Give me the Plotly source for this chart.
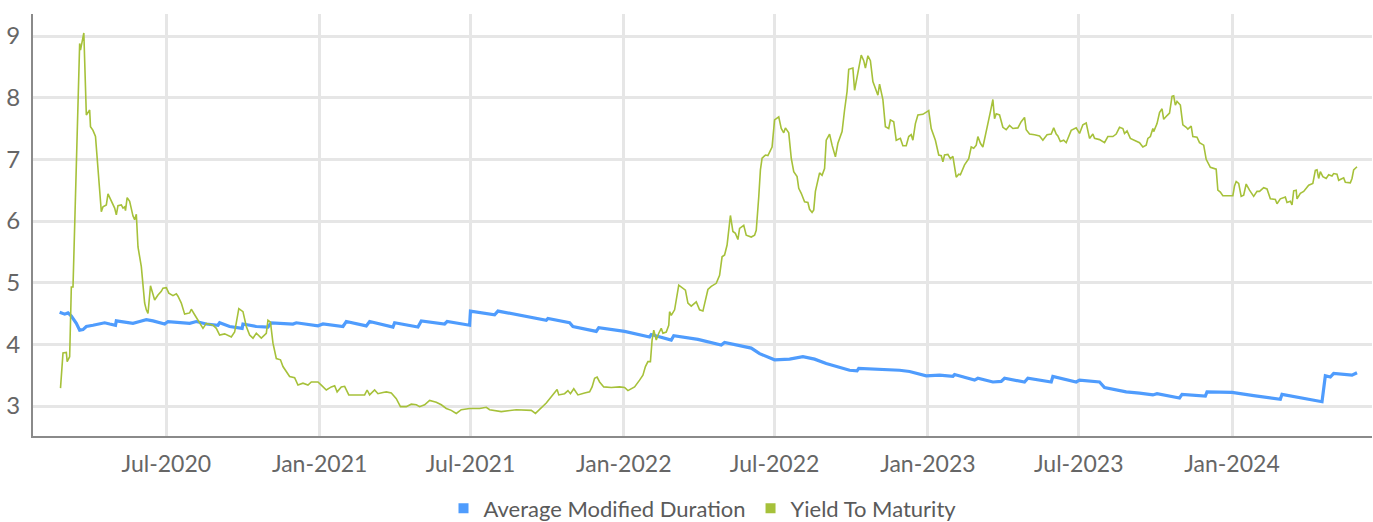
import plotly.graph_objects as go

# ---------------- data ----------------
amd_dates = [
    "2020-02-24", "2020-03-01", "2020-03-05", "2020-03-09", "2020-03-15", "2020-03-19", "2020-03-23",
    "2020-03-27", "2020-04-04", "2020-04-14", "2020-04-18", "2020-04-24", "2020-05-01", "2020-05-02",
    "2020-05-14", "2020-05-22", "2020-05-30", "2020-06-07", "2020-06-15", "2020-06-29", "2020-07-03",
    "2020-07-17", "2020-07-29", "2020-08-06", "2020-08-18", "2020-09-01", "2020-09-03", "2020-09-15",
    "2020-09-30", "2020-10-01", "2020-10-17", "2020-10-31", "2020-11-04", "2020-11-30", "2020-12-04",
    "2020-12-30", "2021-01-05", "2021-01-29", "2021-02-02", "2021-02-26", "2021-03-02", "2021-03-30",
    "2021-04-01", "2021-04-29", "2021-05-03", "2021-05-31", "2021-06-03", "2021-06-30", "2021-07-01",
    "2021-07-30", "2021-08-03", "2021-09-30", "2021-10-02", "2021-10-28", "2021-11-01", "2021-11-29",
    "2021-12-02", "2022-01-02", "2022-02-01", "2022-02-03", "2022-02-27", "2022-03-02", "2022-03-31",
    "2022-04-28", "2022-05-02", "2022-06-03", "2022-06-13", "2022-07-01", "2022-07-19", "2022-08-04",
    "2022-08-18", "2022-09-01", "2022-09-29", "2022-10-08", "2022-10-10", "2022-11-28", "2022-12-10",
    "2022-12-30", "2023-01-15", "2023-01-31", "2023-02-02", "2023-02-26", "2023-03-02", "2023-03-20",
    "2023-03-30", "2023-04-03", "2023-04-27", "2023-05-01", "2023-05-29", "2023-05-31", "2023-06-28",
    "2023-07-02", "2023-07-26", "2023-08-01", "2023-08-27", "2023-09-12", "2023-09-28", "2023-10-03",
    "2023-10-30", "2023-11-02", "2023-11-30", "2023-12-02", "2023-12-18", "2024-01-01", "2024-01-27",
    "2024-02-28", "2024-03-01", "2024-03-27", "2024-04-18", "2024-04-22", "2024-04-28", "2024-05-02",
    "2024-05-14", "2024-05-24", "2024-05-30",
]
amd_values = [
    4.52, 4.49, 4.51, 4.46, 4.34, 4.23, 4.24,
    4.29, 4.31, 4.34, 4.35, 4.33, 4.31, 4.38,
    4.36, 4.34, 4.37, 4.40, 4.38, 4.33, 4.37,
    4.35, 4.34, 4.37, 4.33, 4.31, 4.35, 4.29,
    4.26, 4.33, 4.29, 4.28, 4.35, 4.33, 4.35,
    4.30, 4.33, 4.29, 4.37, 4.30, 4.37, 4.28,
    4.35, 4.28, 4.38, 4.33, 4.37, 4.31, 4.54,
    4.48, 4.54, 4.39, 4.42, 4.35, 4.29, 4.21,
    4.27, 4.21, 4.12, 4.16, 4.07, 4.14, 4.08,
    3.99, 4.03, 3.94, 3.85, 3.75, 3.76, 3.80,
    3.76, 3.69, 3.58, 3.57, 3.61, 3.58, 3.56,
    3.49, 3.50, 3.48, 3.51, 3.42, 3.45, 3.39,
    3.40, 3.45, 3.39, 3.45, 3.39, 3.48, 3.39,
    3.42, 3.39, 3.30, 3.23, 3.21, 3.18, 3.20,
    3.13, 3.19, 3.16, 3.23, 3.23, 3.22, 3.17,
    3.11, 3.19, 3.13, 3.07, 3.49, 3.47, 3.53,
    3.52, 3.50, 3.54,
]

ytm_dates = [
    "2020-02-25", "2020-02-28", "2020-03-03", "2020-03-04", "2020-03-07", "2020-03-09", "2020-03-11",
    "2020-03-13", "2020-03-15", "2020-03-19", "2020-03-20", "2020-03-22", "2020-03-24", "2020-03-27",
    "2020-03-29", "2020-03-31", "2020-04-01", "2020-04-04", "2020-04-07", "2020-04-10", "2020-04-14",
    "2020-04-16", "2020-04-20", "2020-04-22", "2020-04-26", "2020-04-30", "2020-05-02", "2020-05-04",
    "2020-05-08", "2020-05-10", "2020-05-12", "2020-05-13", "2020-05-15", "2020-05-18", "2020-05-22",
    "2020-05-24", "2020-05-26", "2020-05-28", "2020-06-01", "2020-06-05", "2020-06-07", "2020-06-09",
    "2020-06-12", "2020-06-17", "2020-06-21", "2020-06-25", "2020-06-27", "2020-07-01", "2020-07-04",
    "2020-07-09", "2020-07-13", "2020-07-15", "2020-07-19", "2020-07-23", "2020-07-29", "2020-07-31",
    "2020-08-04", "2020-08-09", "2020-08-14", "2020-08-18", "2020-08-26", "2020-08-30", "2020-09-03",
    "2020-09-09", "2020-09-17", "2020-09-21", "2020-09-26", "2020-10-01", "2020-10-05", "2020-10-09",
    "2020-10-13", "2020-10-17", "2020-10-23", "2020-10-29", "2020-10-31", "2020-11-03", "2020-11-06",
    "2020-11-10", "2020-11-15", "2020-11-18", "2020-11-26", "2020-12-02", "2020-12-06", "2020-12-12",
    "2020-12-18", "2020-12-22", "2020-12-30", "2021-01-03", "2021-01-09", "2021-01-15", "2021-01-19",
    "2021-01-22", "2021-01-27", "2021-01-31", "2021-02-05", "2021-02-14", "2021-02-24", "2021-02-27",
    "2021-03-02", "2021-03-08", "2021-03-12", "2021-03-18", "2021-03-22", "2021-03-28", "2021-04-03",
    "2021-04-08", "2021-04-15", "2021-04-21", "2021-04-27", "2021-05-01", "2021-05-07", "2021-05-13",
    "2021-05-21", "2021-05-27", "2021-06-02", "2021-06-08", "2021-06-14", "2021-06-20", "2021-06-30",
    "2021-07-12", "2021-07-20", "2021-07-24", "2021-08-07", "2021-08-25", "2021-09-12", "2021-09-17",
    "2021-09-22", "2021-09-30", "2021-10-06", "2021-10-13", "2021-10-15", "2021-10-22", "2021-10-26",
    "2021-10-29", "2021-11-02", "2021-11-07", "2021-11-15", "2021-11-21", "2021-11-24", "2021-11-27",
    "2021-11-30", "2021-12-03", "2021-12-08", "2021-12-17", "2021-12-27", "2022-01-02", "2022-01-06",
    "2022-01-14", "2022-01-20", "2022-01-24", "2022-01-27", "2022-01-30", "2022-02-02", "2022-02-04",
    "2022-02-06", "2022-02-09", "2022-02-12", "2022-02-15", "2022-02-17", "2022-02-21", "2022-02-24",
    "2022-02-25", "2022-02-27", "2022-03-03", "2022-03-08", "2022-03-16", "2022-03-19", "2022-03-23",
    "2022-03-29", "2022-04-02", "2022-04-06", "2022-04-08", "2022-04-12", "2022-04-16", "2022-04-22",
    "2022-04-26", "2022-04-29", "2022-05-02", "2022-05-05", "2022-05-09", "2022-05-12", "2022-05-15",
    "2022-05-18", "2022-05-20", "2022-05-25", "2022-05-28", "2022-06-03", "2022-06-07", "2022-06-09",
    "2022-06-12", "2022-06-14", "2022-06-16", "2022-06-20", "2022-06-23", "2022-06-25", "2022-06-28",
    "2022-07-01", "2022-07-06", "2022-07-09", "2022-07-12", "2022-07-14", "2022-07-18", "2022-07-21",
    "2022-07-24", "2022-07-28", "2022-07-30", "2022-08-02", "2022-08-06", "2022-08-10", "2022-08-12",
    "2022-08-15", "2022-08-17", "2022-08-19", "2022-08-22", "2022-08-24", "2022-08-27", "2022-08-30",
    "2022-09-01", "2022-09-05", "2022-09-08", "2022-09-12", "2022-09-15", "2022-09-20", "2022-09-23",
    "2022-09-26", "2022-09-28", "2022-10-03", "2022-10-05", "2022-10-09", "2022-10-13", "2022-10-16",
    "2022-10-18", "2022-10-21", "2022-10-24", "2022-10-27", "2022-10-30", "2022-11-02", "2022-11-04",
    "2022-11-08", "2022-11-11", "2022-11-15", "2022-11-17", "2022-11-21", "2022-11-24", "2022-11-29",
    "2022-12-02", "2022-12-06", "2022-12-09", "2022-12-12", "2022-12-14", "2022-12-17", "2022-12-20",
    "2022-12-26", "2023-01-02", "2023-01-05", "2023-01-10", "2023-01-14", "2023-01-17", "2023-01-19",
    "2023-01-21", "2023-01-25", "2023-01-28", "2023-01-31", "2023-02-04", "2023-02-07", "2023-02-09",
    "2023-02-14", "2023-02-19", "2023-02-22", "2023-02-25", "2023-02-28", "2023-03-02", "2023-03-05",
    "2023-03-08", "2023-03-12", "2023-03-14", "2023-03-17", "2023-03-20", "2023-03-22", "2023-03-24",
    "2023-03-28", "2023-04-01", "2023-04-05", "2023-04-09", "2023-04-13", "2023-04-19", "2023-04-23",
    "2023-04-27", "2023-04-29", "2023-05-03", "2023-05-09", "2023-05-15", "2023-05-19", "2023-05-24",
    "2023-05-29", "2023-06-01", "2023-06-04", "2023-06-06", "2023-06-09", "2023-06-13", "2023-06-16",
    "2023-06-18", "2023-06-22", "2023-06-28", "2023-07-02", "2023-07-06", "2023-07-10", "2023-07-14",
    "2023-07-18", "2023-07-20", "2023-07-26", "2023-08-01", "2023-08-05", "2023-08-11", "2023-08-15",
    "2023-08-19", "2023-08-23", "2023-08-25", "2023-08-28", "2023-09-01", "2023-09-06", "2023-09-12",
    "2023-09-16", "2023-09-20", "2023-09-22", "2023-09-25", "2023-09-28", "2023-09-29", "2023-10-03",
    "2023-10-06", "2023-10-09", "2023-10-11", "2023-10-15", "2023-10-18", "2023-10-21", "2023-10-23",
    "2023-10-25", "2023-10-27", "2023-10-31", "2023-11-03", "2023-11-07", "2023-11-09", "2023-11-13",
    "2023-11-15", "2023-11-20", "2023-11-23", "2023-11-28", "2023-12-01", "2023-12-06", "2023-12-13",
    "2023-12-15", "2023-12-18", "2023-12-21", "2024-01-02", "2024-01-04", "2024-01-06", "2024-01-09",
    "2024-01-12", "2024-01-15", "2024-01-18", "2024-01-22", "2024-01-27", "2024-01-31", "2024-02-03",
    "2024-02-08", "2024-02-12", "2024-02-16", "2024-02-22", "2024-02-24", "2024-02-28", "2024-03-05",
    "2024-03-07", "2024-03-11", "2024-03-13", "2024-03-15", "2024-03-18", "2024-03-19", "2024-03-23",
    "2024-03-27", "2024-04-02", "2024-04-07", "2024-04-10", "2024-04-12", "2024-04-14", "2024-04-16",
    "2024-04-19", "2024-04-23", "2024-04-26", "2024-04-30", "2024-05-02", "2024-05-06", "2024-05-08",
    "2024-05-14", "2024-05-16", "2024-05-22", "2024-05-24", "2024-05-26", "2024-05-30",
]
ytm_values = [
    3.29, 3.86, 3.87, 3.72, 3.80, 4.93, 4.93,
    6.02, 6.99, 8.88, 8.77, 8.91, 9.05, 7.72,
    7.77, 7.80, 7.53, 7.47, 7.37, 6.83, 6.15,
    6.23, 6.26, 6.44, 6.32, 6.21, 6.10, 6.25,
    6.26, 6.21, 6.23, 6.17, 6.38, 6.32, 6.08,
    6.02, 6.11, 5.58, 5.26, 4.67, 4.56, 4.50,
    4.95, 4.72, 4.80, 4.86, 4.91, 4.92, 4.83,
    4.79, 4.82, 4.78, 4.67, 4.49, 4.51, 4.57,
    4.48, 4.37, 4.26, 4.34, 4.31, 4.26, 4.15,
    4.17, 4.12, 4.20, 4.58, 4.53, 4.29, 4.15,
    4.10, 4.18, 4.10, 4.18, 4.39, 4.36, 4.02,
    3.77, 3.75, 3.64, 3.48, 3.46, 3.34, 3.37,
    3.34, 3.39, 3.39, 3.34, 3.26, 3.31, 3.33,
    3.23, 3.31, 3.32, 3.18, 3.18, 3.18, 3.26,
    3.18, 3.26, 3.20, 3.22, 3.23, 3.21, 3.12,
    2.99, 2.99, 3.03, 3.02, 2.99, 3.02, 3.09,
    3.06, 3.02, 2.96, 2.93, 2.88, 2.94, 2.96,
    2.96, 2.98, 2.94, 2.91, 2.94, 2.93, 2.88,
    2.94, 3.05, 3.15, 3.27, 3.18, 3.20, 3.25,
    3.20, 3.28, 3.18, 3.21, 3.23, 3.31, 3.45,
    3.47, 3.39, 3.31, 3.30, 3.31, 3.30, 3.25,
    3.31, 3.42, 3.50, 3.64, 3.72, 3.72, 4.07,
    4.23, 4.07, 4.18, 4.26, 4.18, 4.20, 4.31,
    4.53, 4.47, 4.56, 4.96, 4.88, 4.67, 4.62,
    4.69, 4.56, 4.54, 4.66, 4.89, 4.94, 4.99,
    5.12, 5.42, 5.45, 5.61, 6.09, 5.83, 5.80,
    5.70, 5.88, 5.93, 5.77, 5.74, 5.77, 5.85,
    6.39, 6.83, 7.02, 7.07, 7.06, 7.12, 7.20,
    7.64, 7.69, 7.50, 7.43, 7.51, 7.43, 7.02,
    6.80, 6.72, 6.53, 6.45, 6.31, 6.30, 6.19,
    6.14, 6.18, 6.48, 6.66, 6.78, 6.74, 6.85,
    7.31, 7.41, 7.23, 7.04, 7.26, 7.45, 7.80,
    8.10, 8.46, 8.48, 8.12, 8.42, 8.69, 8.60,
    8.48, 8.68, 8.60, 8.26, 8.15, 8.04, 8.22,
    7.97, 7.53, 7.50, 7.64, 7.61, 7.31, 7.34,
    7.22, 7.22, 7.37, 7.40, 7.31, 7.58, 7.72,
    7.73, 7.79, 7.50, 7.31, 7.07, 7.06, 6.96,
    7.07, 7.08, 7.01, 7.05, 6.71, 6.76, 6.75,
    6.91, 7.01, 7.20, 7.18, 7.23, 7.37, 7.26,
    7.20, 7.42, 7.58, 7.77, 7.97, 7.66, 7.74,
    7.72, 7.52, 7.48, 7.55, 7.50, 7.51, 7.61,
    7.68, 7.48, 7.41, 7.40, 7.38, 7.31, 7.40,
    7.41, 7.51, 7.41, 7.38, 7.29, 7.31, 7.27,
    7.34, 7.47, 7.51, 7.42, 7.56, 7.59, 7.34,
    7.41, 7.34, 7.32, 7.27, 7.37, 7.37, 7.41,
    7.52, 7.50, 7.42, 7.46, 7.34, 7.31, 7.27,
    7.20, 7.23, 7.34, 7.37, 7.50, 7.45, 7.58,
    7.76, 7.82, 7.65, 7.71, 7.75, 8.02, 8.03,
    7.88, 7.94, 7.88, 7.56, 7.52, 7.49, 7.54,
    7.37, 7.36, 7.27, 7.23, 7.00, 6.87, 6.84,
    6.50, 6.47, 6.41, 6.41, 6.57, 6.64, 6.61,
    6.40, 6.42, 6.60, 6.50, 6.40, 6.48, 6.48,
    6.54, 6.52, 6.36, 6.35, 6.28, 6.36, 6.39,
    6.30, 6.32, 6.26, 6.49, 6.50, 6.36, 6.45,
    6.48, 6.58, 6.61, 6.82, 6.83, 6.69, 6.80,
    6.72, 6.69, 6.75, 6.73, 6.77, 6.76, 6.66,
    6.70, 6.63, 6.62, 6.69, 6.83, 6.88,
]

series_names = ["Average Modified Duration", "Yield To Maturity"]
series_colors = ["#4f9cfd", "#a6c13a"]

x_range = ["2020-01-23", "2024-06-17"]
y_range = [2.514, 9.357]
y_ticks = [3, 4, 5, 6, 7, 8, 9]

FONT = "Lato, Roboto, sans-serif"

fig = go.Figure()
fig.add_trace(go.Scatter(
    x=amd_dates, y=amd_values, mode="lines", name=series_names[0],
    line=dict(color=series_colors[0], width=3.2), showlegend=False,
))
fig.add_trace(go.Scatter(
    x=ytm_dates, y=ytm_values, mode="lines", name=series_names[1],
    line=dict(color=series_colors[1], width=1.6), showlegend=False,
))
# legend entries with square swatches
for name, color in zip(series_names, series_colors):
    fig.add_trace(go.Scatter(
        x=[None], y=[None], mode="markers", name=name,
        marker=dict(symbol="square", size=10, color=color),
        showlegend=True,
    ))

fig.update_layout(
    width=1373, height=522,
    margin=dict(l=33, r=1, t=14, b=86, autoexpand=False),
    paper_bgcolor="white", plot_bgcolor="white",
    font=dict(family=FONT, size=22, color="#666666"),
    showlegend=True,
    legend=dict(
        orientation="h", x=0.5, xanchor="center",
        yref="container", y=0.026, yanchor="middle",
        font=dict(family=FONT, size=22, color="#5a5a5a"),
        itemwidth=30, tracegroupgap=0, itemclick=False,
        bgcolor="rgba(0,0,0,0)",
    ),
    hovermode=False,
)
fig.update_xaxes(
    type="date", range=x_range, automargin=False,
    tick0="2020-07-01", dtick="M6", tickformat="%b-%Y",
    showgrid=True, gridcolor="#e6e6e6", gridwidth=3,
    showline=True, linecolor="#8a8a8a", linewidth=2,
    ticks="", ticklabelstandoff=6,
    tickfont=dict(family=FONT, size=23, color="#666666"),
    zeroline=False,
)
fig.update_yaxes(
    range=y_range, tickvals=y_ticks, automargin=False,
    showgrid=True, gridcolor="#e6e6e6", gridwidth=3,
    showline=True, linecolor="#8a8a8a", linewidth=2,
    ticks="", ticklabelstandoff=6,
    tickfont=dict(family=FONT, size=24, color="#666666"),
    zeroline=False,
)

fig.write_html(
    "out.html",
    config={"displayModeBar": False, "staticPlot": True},
    post_script="document.body.style.margin='0';document.body.style.overflow='hidden';",
)
